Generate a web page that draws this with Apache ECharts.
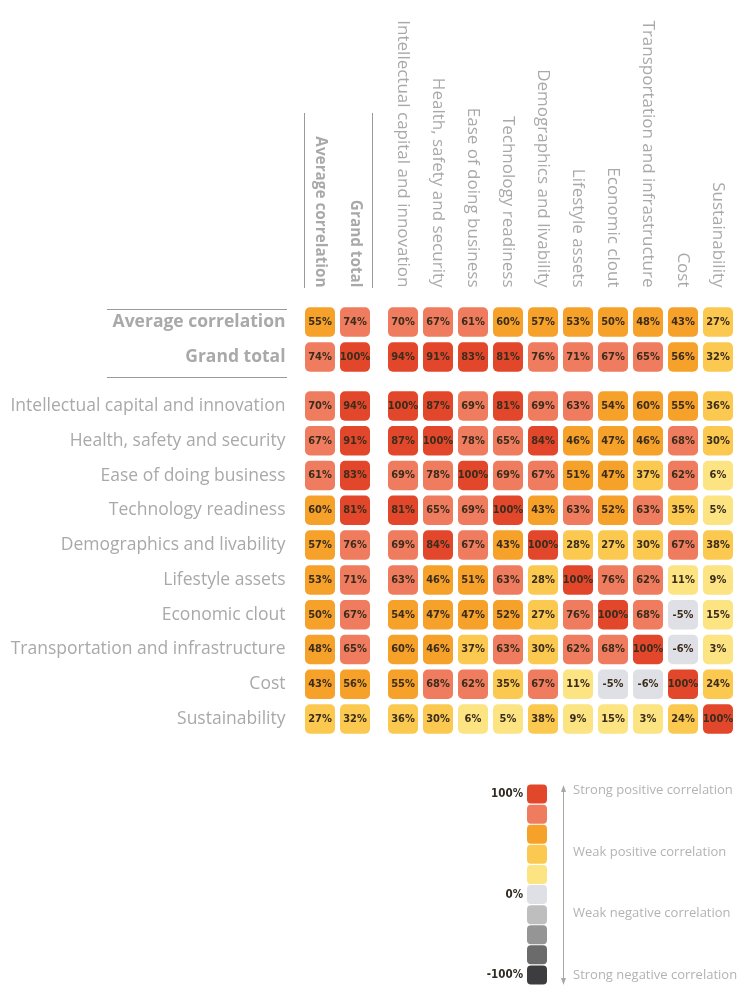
<!DOCTYPE html>
<html>
<head>
<meta charset="utf-8">
<script src="https://cdn.jsdelivr.net/npm/echarts@6/dist/echarts.min.js"></script>
<style>html,body{margin:0;padding:0;background:#fff;}#c{width:739px;height:985px;}</style>
</head>
<body>
<div id="c"></div>
<script>
// ---- Data ----
const summaryNames = ['Average correlation', 'Grand total'];
const factorNames = [
  'Intellectual capital and innovation',
  'Health, safety and security',
  'Ease of doing business',
  'Technology readiness',
  'Demographics and livability',
  'Lifestyle assets',
  'Economic clout',
  'Transportation and infrastructure',
  'Cost',
  'Sustainability'
];
// each row: [Average, Grand total, then the 10 factors in column order]
const rowAverage        = [55, 74, 70, 67, 61, 60, 57, 53, 50, 48, 43, 27];
const rowGrandTotal     = [74, 100, 94, 91, 83, 81, 76, 71, 67, 65, 56, 32];
const rowIntellectual   = [70, 94, 100, 87, 69, 81, 69, 63, 54, 60, 55, 36];
const rowHealth         = [67, 91, 87, 100, 78, 65, 84, 46, 47, 46, 68, 30];
const rowEase           = [61, 83, 69, 78, 100, 69, 67, 51, 47, 37, 62, 6];
const rowTechnology     = [60, 81, 81, 65, 69, 100, 43, 63, 52, 63, 35, 5];
const rowDemographics   = [57, 76, 69, 84, 67, 43, 100, 28, 27, 30, 67, 38];
const rowLifestyle      = [53, 71, 63, 46, 51, 63, 28, 100, 76, 62, 11, 9];
const rowEconomic       = [50, 67, 54, 47, 47, 52, 27, 76, 100, 68, -5, 15];
const rowTransportation = [48, 65, 60, 46, 37, 63, 30, 62, 68, 100, -6, 3];
const rowCost           = [43, 56, 55, 68, 62, 35, 67, 11, -5, -6, 100, 24];
const rowSustainability = [27, 32, 36, 30, 6, 5, 38, 9, 15, 3, 24, 100];

const summaryRows = [rowAverage, rowGrandTotal];
const factorRows = [rowIntellectual, rowHealth, rowEase, rowTechnology, rowDemographics,
  rowLifestyle, rowEconomic, rowTransportation, rowCost, rowSustainability];

// legend scale
const legendValues = [90, 70, 50, 30, 10, -10, -30, -50, -70, -90];
const legendTicks = ['100%', '', '', '', '', '0%', '', '', '', '-100%'];
const legendTexts = ['Strong positive correlation', 'Weak positive correlation',
  'Weak negative correlation', 'Strong negative correlation'];

// ---- Build ----
function block(rows, colStart, colEnd) {
  const out = [];
  rows.forEach((r, ri) => {
    for (let c = colStart; c < colEnd; c++) out.push([c - colStart, ri, r[c]]);
  });
  return out;
}
const labelFont = '"Open Sans", "Liberation Sans", Arial, sans-serif';
const cellFont = 'bold 11px "DejaVu Sans Condensed", "Liberation Sans Narrow", "Liberation Sans", sans-serif';

function renderCell(params, api) {
  const c = api.coord([api.value(0), api.value(1)]);
  const w = 30, h = 29.5;
  return {
    type: 'rect',
    shape: { x: c[0] - w / 2, y: c[1] - h / 2, width: w, height: h, r: 5 },
    style: { fill: api.visual('color') },
    textContent: { style: { text: api.value(2) + '%', font: cellFont, fill: '#3b2c1c' } },
    textConfig: { position: 'inside' }
  };
}
function renderLegend(params, api) {
  const c = api.coord([api.value(0), api.value(1)]);
  const w = 20, h = 19;
  return {
    type: 'rect',
    shape: { x: c[0] - w / 2, y: c[1] - h / 2, width: w, height: h, r: 4 },
    style: { fill: api.visual('color') }
  };
}

const hidden = { show: false };
const colsA = summaryNames, colsB = factorNames;
const grids = [
  { left: 302.5, width: 70, top: 304.5, height: 70 },
  { left: 385.5, width: 350, top: 304.5, height: 70 },
  { left: 302.5, width: 70, top: 388.6, height: 347.8 },
  { left: 385.5, width: 350, top: 388.6, height: 347.8 },
  { left: 527, width: 20, top: 784, height: 203 }
];
function xAx(gi, data, showLabel, bold) {
  return {
    type: 'category', gridIndex: gi, data: data, position: 'top',
    axisLine: hidden, axisTick: hidden, splitLine: hidden,
    axisLabel: {
      show: showLabel, rotate: 90, margin: 17, interval: 0,
      color: '#a9a9a9', fontFamily: labelFont,
      fontSize: bold ? 15.3 : 17, fontWeight: bold ? 'bold' : 'normal'
    }
  };
}
function yAx(gi, data, showLabel, bold) {
  return {
    type: 'category', gridIndex: gi, data: data, inverse: true,
    axisLine: hidden, axisTick: hidden, splitLine: hidden,
    axisLabel: {
      show: showLabel, margin: 17, interval: 0,
      color: '#a9a9a9', fontFamily: labelFont,
      fontSize: bold ? 17.5 : 17.5, fontWeight: bold ? 'bold' : 'normal'
    }
  };
}

const option = {
  backgroundColor: '#ffffff',
  animation: false,
  grid: grids,
  xAxis: [
    xAx(0, colsA, true, true),
    xAx(1, colsB, true, false),
    xAx(2, colsA, false, false),
    xAx(3, colsB, false, false),
    { type: 'category', gridIndex: 4, data: ['scale'], axisLine: hidden, axisTick: hidden, axisLabel: hidden, splitLine: hidden }
  ],
  yAxis: [
    yAx(0, summaryNames, true, true),
    yAx(1, summaryNames, false, false),
    yAx(2, factorNames, true, false),
    yAx(3, factorNames, false, false),
    {
      type: 'category', gridIndex: 4, data: legendTicks, inverse: true,
      axisLine: hidden, axisTick: hidden, splitLine: hidden,
      axisLabel: { interval: 0, margin: 4, color: '#2f2a22', fontWeight: 'bold', fontSize: 11.5,
        fontFamily: '"DejaVu Sans Condensed", "Liberation Sans Narrow", sans-serif' }
    }
  ],
  visualMap: {
    type: 'piecewise', show: false, dimension: 2, seriesIndex: [0, 1, 2, 3, 4],
    pieces: [
      { gt: 80, lte: 100, color: '#e2472b' },
      { gt: 60, lte: 80, color: '#f07c5f' },
      { gt: 40, lte: 60, color: '#f5a12a' },
      { gt: 20, lte: 40, color: '#fbc94f' },
      { gt: 0, lte: 20, color: '#fde482' },
      { gt: -20, lte: 0, color: '#dfe0e6' },
      { gt: -40, lte: -20, color: '#bebebe' },
      { gt: -60, lte: -40, color: '#959595' },
      { gt: -80, lte: -60, color: '#6b6b6b' },
      { gte: -100, lte: -80, color: '#3d3d40' }
    ]
  },
  series: [
    { type: 'custom', xAxisIndex: 0, yAxisIndex: 0, renderItem: renderCell, data: block(summaryRows, 0, 2) },
    { type: 'custom', xAxisIndex: 1, yAxisIndex: 1, renderItem: renderCell, data: block(summaryRows, 2, 12) },
    { type: 'custom', xAxisIndex: 2, yAxisIndex: 2, renderItem: renderCell, data: block(factorRows, 0, 2) },
    { type: 'custom', xAxisIndex: 3, yAxisIndex: 3, renderItem: renderCell, data: block(factorRows, 2, 12) },
    { type: 'custom', xAxisIndex: 4, yAxisIndex: 4, renderItem: renderLegend,
      data: legendValues.map((v, i) => [0, i, v]) }
  ],
  graphic: [
    { type: 'line', shape: { x1: 107, y1: 309.5, x2: 287, y2: 309.5 }, style: { stroke: '#9a9a9a', lineWidth: 1 } },
    { type: 'line', shape: { x1: 107, y1: 377.5, x2: 287, y2: 377.5 }, style: { stroke: '#9a9a9a', lineWidth: 1 } },
    { type: 'line', shape: { x1: 304.5, y1: 113, x2: 304.5, y2: 288 }, style: { stroke: '#9a9a9a', lineWidth: 1 } },
    { type: 'line', shape: { x1: 372.5, y1: 113, x2: 372.5, y2: 288 }, style: { stroke: '#9a9a9a', lineWidth: 1 } },
    { type: 'line', shape: { x1: 563.5, y1: 787, x2: 563.5, y2: 983 }, style: { stroke: '#a8a8a8', lineWidth: 1 } },
    { type: 'polygon', shape: { points: [[561, 792], [563.5, 785], [566, 792]] }, style: { fill: '#a8a8a8' } },
    { type: 'polygon', shape: { points: [[561, 978], [563.5, 985], [566, 978]] }, style: { fill: '#a8a8a8' } },
    { type: 'text', left: 573, top: 784, style: { text: legendTexts[0], fill: '#b3b3b3', font: '13px ' + labelFont } },
    { type: 'text', left: 573, top: 846, style: { text: legendTexts[1], fill: '#b3b3b3', font: '13px ' + labelFont } },
    { type: 'text', left: 573, top: 907, style: { text: legendTexts[2], fill: '#b3b3b3', font: '13px ' + labelFont } },
    { type: 'text', left: 573, top: 969, style: { text: legendTexts[3], fill: '#b3b3b3', font: '13px ' + labelFont } }
  ]
};
const chart = echarts.init(document.getElementById('c'), null, { renderer: 'canvas' });
chart.setOption(option);
</script>
</body>
</html>
